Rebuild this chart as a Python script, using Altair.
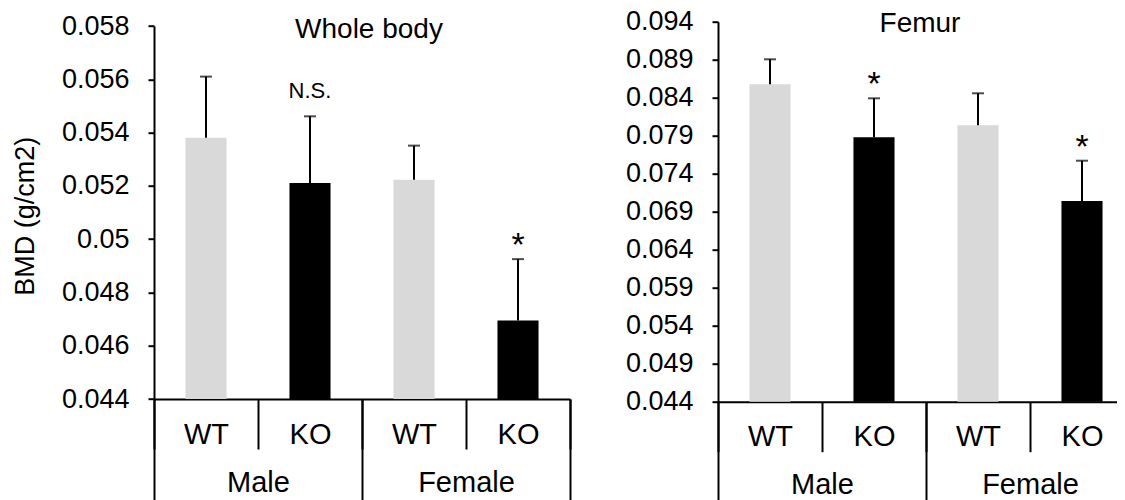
import altair as alt
import pandas as pd

FONT = "Liberation Sans"

# ---- data ----
categories = ["Male WT", "Male KO", "Female WT", "Female KO"]
sexes = ["Male", "Male", "Female", "Female"]
genotypes = ["WT", "KO", "WT", "KO"]
sex_order = ["Male", "Female"]

wb_mean = [0.05381, 0.05211, 0.05223, 0.04695]
wb_sd = [0.00229, 0.00250, 0.00128, 0.00230]
wb_sig = ["", "N.S.", "", "*"]
wb_ticks = [0.044, 0.046, 0.048, 0.05, 0.052, 0.054, 0.056, 0.058]

fe_mean = [0.08576, 0.07879, 0.08037, 0.07041]
fe_sd = [0.00329, 0.00513, 0.00421, 0.00530]
fe_sig = ["", "*", "", "*"]
fe_ticks = [0.044, 0.049, 0.054, 0.059, 0.064, 0.069, 0.074, 0.079, 0.084, 0.089, 0.094]

geno_domain = ["WT", "KO"]
geno_colors = ["#d9d9d9", "#000000"]

W = 416
H = 380
SVG_W = 1109
SVG_H = 484
PAD_L = 146
PAD_T = 13.7


def panel(mean, sd, sig, ticks, yrange, xoff, title, tx, ty, ytitle):
    df = pd.DataFrame({
        "cat": categories,
        "sex": sexes,
        "geno": genotypes,
        "mean": mean,
        "top": [m + s for m, s in zip(mean, sd)],
        "sig": sig,
    })
    xcat = alt.X(
        "cat:N", sort=categories,
        scale=alt.Scale(paddingInner=0, paddingOuter=0),
        axis=alt.Axis(
            orient="bottom", title=None, labelAngle=0,
            labelExpr="split(datum.value, ' ')[1]",
            labelFontSize=29, labelColor="black", labelBaseline="alphabetic",
            labelPadding=-6, tickBand="extent", tickSize=50, tickWidth=2,
            tickColor="black", domainColor="black", domainWidth=2, offset=xoff,
        ),
    )
    yaxis = alt.Axis(
        values=ticks, tickCount=len(ticks), labelExpr="'' + datum.value", grid=False,
        labelOverlap=False,
        labelFontSize=27, labelColor="black", labelPadding=19,
        tickSize=6, tickWidth=2, tickColor="black",
        domainColor="black", domainWidth=2,
        titleFontSize=27, titleFontWeight="normal", titleColor="black",
        titlePadding=22, titleY=194,
    )
    yscale = alt.Scale(domain=[ticks[0], ticks[-1]], range=yrange, zero=False, nice=False)
    if ytitle:
        y = alt.Y("mean:Q", scale=yscale, axis=yaxis, title=ytitle)
    else:
        y = alt.Y("mean:Q", scale=yscale, axis=yaxis, title=None)

    base = alt.Chart(df)
    bars = base.mark_bar(width=alt.RelativeBandSize(0.395)).encode(
        x=xcat, y=y, y2=alt.datum(ticks[0]),
        color=alt.Color("geno:N", scale=alt.Scale(domain=geno_domain, range=geno_colors), legend=None),
    )
    rules = base.mark_rule(color="black", strokeWidth=2).encode(
        x=xcat, y=alt.Y("mean:Q"), y2="top:Q")
    caps = base.mark_tick(color="black", size=12, thickness=2).encode(
        x=xcat, y=alt.Y("top:Q"))
    ns = base.transform_filter("datum.sig == 'N.S.'").mark_text(
        fontSize=22, baseline="alphabetic", dy=-18, color="black").encode(
        x=xcat, y=alt.Y("top:Q"), text="sig:N")
    star = base.transform_filter("datum.sig == '*'").mark_text(
        fontSize=34, baseline="alphabetic", dy=-3, color="black").encode(
        x=xcat, y=alt.Y("top:Q"), text="sig:N")
    ttl = alt.Chart(pd.DataFrame({"t": [title]})).mark_text(
        fontSize=28, baseline="alphabetic", align="center", color="black").encode(
        x=alt.value(tx), y=alt.value(ty), text="t:N")
    inner = alt.layer(bars, rules, caps, ns, star, ttl)

    sexlayer = alt.Chart(pd.DataFrame({"sex": sex_order})).mark_point(opacity=0).encode(
        x=alt.X("sex:N", sort=sex_order,
                scale=alt.Scale(paddingInner=0, paddingOuter=0),
                axis=alt.Axis(
                    orient="bottom", title=None, labelAngle=0, domain=False,
                    labelFontSize=29, labelColor="black", labelBaseline="alphabetic",
                    labelPadding=-9, tickBand="extent", tickSize=101, tickWidth=2,
                    tickColor="black", offset=xoff,
                )),
    )
    return alt.layer(inner, sexlayer).resolve_scale(x="independent").properties(width=W, height=H)


left = panel(wb_mean, wb_sd, wb_sig, wb_ticks, [377.3, 4.3], -2.7, "Whole body", 215, 16.6, "BMD (g/cm2)")
right = panel(fe_mean, fe_sd, fe_sig, fe_ticks, [380, 0], 0, "Femur", 202, 10, None)

chart = alt.hconcat(left, right, spacing=148, bounds="flush").properties(
    autosize=alt.AutoSizeParams(type="none"),
    padding={"left": PAD_L, "top": PAD_T, "right": SVG_W - PAD_L, "bottom": SVG_H - PAD_T},
).configure_view(
    strokeWidth=0
).configure_axis(labelFont=FONT, titleFont=FONT).configure_text(font=FONT)

chart.save("out.html", embed_options={"renderer": "svg", "actions": False})
